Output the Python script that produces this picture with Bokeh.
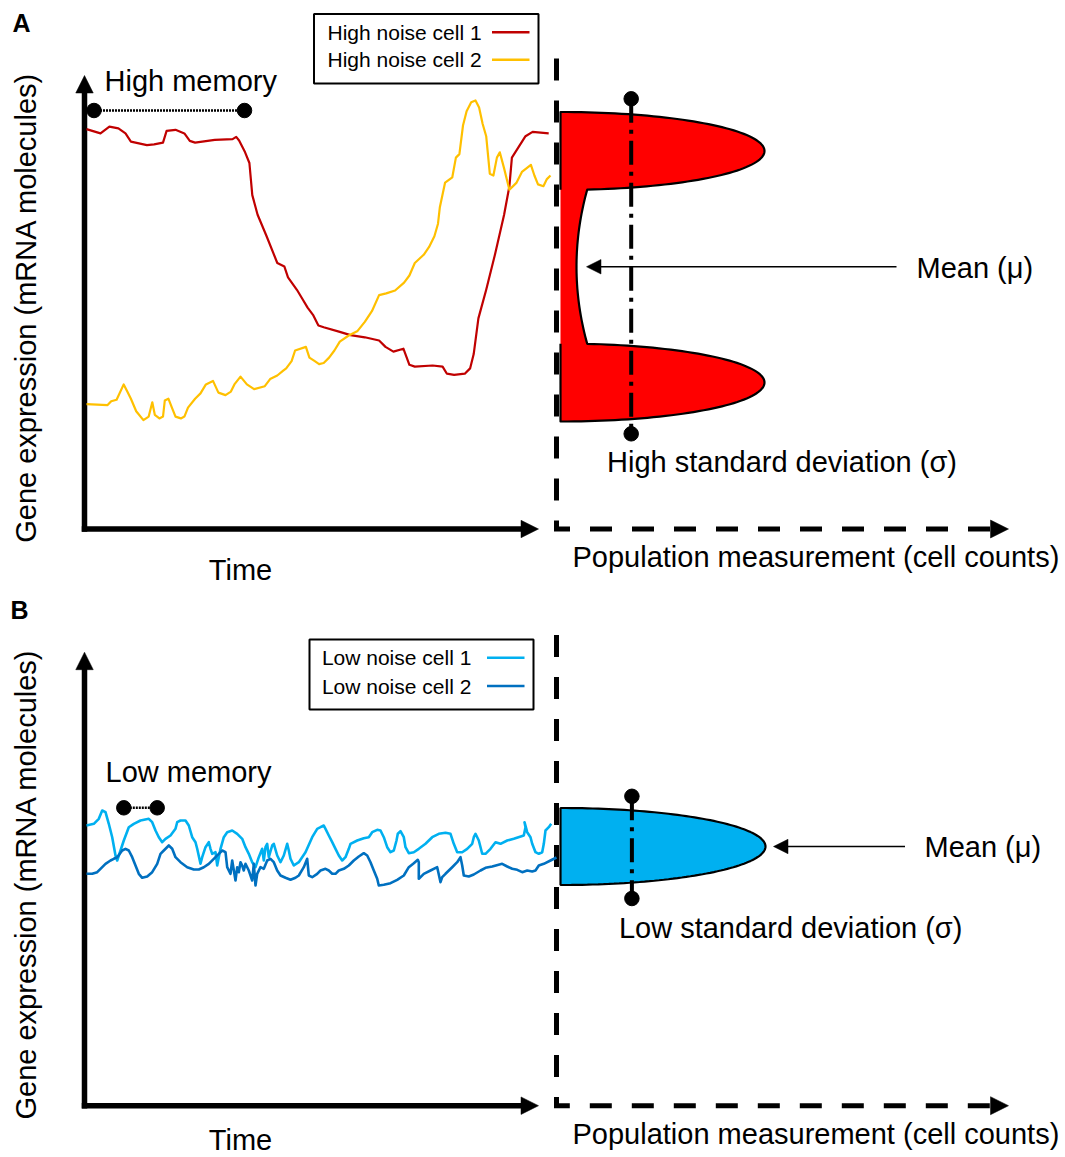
import numpy as np
from bokeh.plotting import figure
from bokeh.models import Range1d
from bokeh.core.properties import value
from bokeh.embed import file_html
from bokeh.resources import INLINE

# ---------------- data ----------------
# time series: (time, expression) in picture units measured from each panel's origin
high_noise_cell1 = [(0, 398.4), (14, 394.1), (22.9, 400.9), (31.9, 399.1), (39, 394.1), (44.4, 385.9),
    (60.4, 382.4), (67.6, 383.1), (76.5, 384.9), (80.1, 396.6), (89, 397.7), (97.9, 394.1),
    (103.3, 386.6), (108.6, 384.9), (128.3, 387.7), (146.1, 388.4), (149.7, 390.6), (152.6, 387),
    (158.6, 375.2), (162.9, 364.5), (165.8, 332.4), (171.1, 312.7), (180.1, 291.3), (190.8, 264.5),
    (197.9, 260.9), (201.5, 250.2), (210.4, 237.7), (215.8, 228.8), (221.1, 219.9), (226.5, 212.7),
    (231.9, 202), (237.2, 200.2), (253.3, 195.6), (264, 192.4), (278.3, 190.2), (292.6, 187),
    (299, 180.6), (306.9, 175.9), (316.9, 178.8), (322.9, 162.7), (328.3, 160.9), (346.1, 162),
    (356.1, 160.9), (360.4, 153.8), (367.6, 152.7), (378.3, 153.8), (383.6, 159.1), (387.2, 173.4),
    (391.9, 209.1), (399.7, 237.7), (408.6, 273.4), (417.6, 312.7), (422.9, 341.3), (425.4, 369.9),
    (439, 391.3), (446.1, 395.6), (462.2, 394.1)]

high_noise_cell2 = [(0, 123.4), (21.1, 122.4), (24.7, 126.3), (30.1, 127.7), (37.2, 143.1), (40.8, 135.9),
    (44.4, 128.8), (49.7, 116.3), (56.9, 107.4), (62.2, 110.9), (65.8, 125.2), (68.3, 112.7),
    (72.9, 109.1), (76.5, 110.9), (78.3, 127), (81.9, 128.8), (85.4, 119.9), (89, 110.9),
    (94.4, 109.1), (97.9, 110.9), (101.5, 119.9), (108.6, 128.8), (114, 134.1), (119.4, 143.1),
    (126.5, 146.6), (131.9, 134.9), (139, 132.4), (144.4, 135.9), (147.9, 143.1), (154, 150.9),
    (160.4, 143.1), (167.6, 138.4), (178.3, 141.3), (183.6, 148.4), (190.8, 152), (196.1, 156.3),
    (199.7, 159.1), (205.1, 166.3), (208.6, 177), (219.4, 180.6), (222.9, 169.9), (228.3, 166.3),
    (232.6, 163.4), (237.2, 164.5), (242.6, 169.9), (247.9, 177), (253.3, 185.9), (262.2, 192),
    (271.1, 196.6), (278.3, 205.6), (285.4, 216.3), (292.6, 232.4), (299.7, 234.1), (308.6, 237),
    (317.6, 244.9), (322.9, 252), (328.3, 264.5), (337.2, 272.7), (342.6, 280.6), (347.9, 291.3),
    (351.5, 303.8), (353.3, 319.9), (358.6, 344.9), (365.8, 350.2), (369.4, 369.9), (372.9, 373.4),
    (376.5, 402), (380.1, 416.3), (384.7, 425.2), (389, 427), (392.6, 419.9), (396.1, 403.8),
    (399.7, 391.3), (403.3, 353.8), (406.9, 352), (410.4, 369.9), (413.3, 375.2), (417.6, 359.1),
    (422.9, 337.7), (430.1, 344.9), (435.4, 355.6), (444.4, 362.7), (447.9, 352), (451.5, 343.1),
    (456.9, 341.3), (460.4, 348.4), (464, 352)]

low_noise_cell1 = [(0, 279), (7.3, 280.7), (12.3, 285.7), (15.7, 294), (19, 292.3), (22.3, 280.7),
    (25.7, 267.3), (29, 249), (30.7, 244), (34, 254), (37.3, 264), (42.3, 277.3), (47.3, 280.7),
    (54, 284), (62.3, 285.7), (65.7, 282.3), (69, 274), (72.3, 267.3), (75.7, 262.3), (79, 265.7),
    (84, 269), (89, 275.7), (90.7, 282.3), (94, 284), (99, 284), (102.3, 279), (105.7, 267.3),
    (109, 262.3), (110.7, 255.7), (114, 240.7), (115.7, 247.3), (119, 257.3), (122.3, 262.3),
    (124, 255.7), (125.7, 250.7), (129, 252.3), (130.7, 239), (134, 255.7), (137.3, 267.3),
    (140.7, 272.3), (145.7, 274), (150.7, 270.7), (155.7, 265.7), (159, 257.3), (162.3, 250.7),
    (165.7, 242.3), (169, 237.3), (172.3, 247.3), (175.7, 255.7), (177.3, 244), (179, 257.3),
    (180.7, 260.7), (182.3, 247.3), (185.7, 259), (187.3, 260.7), (190.7, 249), (194, 242.3),
    (197.3, 249), (200.7, 260.7), (202.3, 254), (204, 245.7), (207.3, 239), (212.3, 242.3),
    (219, 252.3), (225.7, 267.3), (230.7, 275.7), (234, 277.3), (237.3, 279), (239, 275.7),
    (242.3, 269), (245.7, 262.3), (249, 255.7), (252.3, 249), (255.7, 244), (259, 247.3),
    (262.3, 255.7), (264, 260.7), (270.7, 264), (277.3, 266.3), (282.3, 267.3), (285.7, 272.3),
    (290.7, 274.7), (294, 274), (297.3, 267.3), (300.7, 257.3), (304, 252.3), (307.3, 254),
    (310, 264), (311.3, 270.7), (314, 273.3), (317.3, 267.3), (319, 257.3), (322.3, 251.3),
    (327.3, 252.3), (332.3, 255.7), (339, 260.7), (345.7, 267.3), (352.3, 270.7), (359, 271.7),
    (364, 270.7), (367.3, 260.7), (370.7, 252.3), (375.7, 252.3), (380.7, 255.7), (385.7, 260.7),
    (387.3, 267.3), (389, 270.7), (392.3, 264), (395.7, 250.7), (399, 250.7), (404, 255.7),
    (409, 262.3), (414, 260.7), (420.7, 264), (427.3, 265.7), (437.3, 269), (439, 277.3),
    (438, 282.3), (440.7, 272.3), (444, 267.3), (445.7, 260.7), (449, 252.3), (452.3, 250.7),
    (455.7, 252.3), (457.3, 260.7), (459, 274), (462.3, 277.3), (464.7, 280.7)]

low_noise_cell2 = [(0, 230.7), (5.7, 230.7), (10.7, 232.3), (14, 235.7), (19, 240.7), (24, 244),
    (27.3, 245.7), (30.7, 247.3), (35.7, 254), (39, 255.7), (42.3, 254), (45.7, 247.3), (49, 239),
    (52.3, 230.7), (55.7, 226.7), (60.7, 228), (65.7, 232.3), (70.7, 240.7), (74, 250.7),
    (77.3, 254), (82.3, 259), (85.7, 255.7), (89, 247.3), (94, 242.3), (100.7, 237.3), (107.3, 235),
    (112.3, 235), (117.3, 237.3), (122.3, 240.7), (127.3, 245.7), (132.3, 250.7), (135.7, 254),
    (139, 252.3), (140.7, 237.3), (144, 230.7), (145.7, 244), (149, 224), (150.7, 237.3),
    (152.3, 232.3), (154, 242.3), (155.7, 239), (157.3, 234), (159, 240.7), (162.3, 234),
    (165.7, 224), (167.3, 240.7), (169, 219), (170.7, 230.7), (174, 237.3), (177.3, 235.7),
    (180.7, 244), (184, 245.7), (187.3, 242.3), (190.7, 234), (194, 229), (199, 226.7),
    (204, 224.7), (209, 226.7), (212.3, 229), (217.3, 237.3), (220.7, 245.7), (222.3, 229),
    (225.7, 227.3), (230.7, 230.7), (234, 234), (239, 235.7), (242.3, 234), (245.7, 230.7),
    (249, 230.7), (252.3, 234), (257.3, 235.7), (262.3, 239), (267.3, 244), (272.3, 248),
    (277.3, 251.3), (280.7, 249), (284, 242.3), (287.3, 234), (290.7, 225.7), (292.3, 219),
    (297.3, 219.7), (304, 221.3), (310.7, 224.7), (317.3, 229), (322.3, 237.3), (327.3, 241.3),
    (331.3, 244.7), (332.3, 242.3), (332.3, 225.7), (337.3, 230.7), (344, 234), (350.7, 237.3),
    (354, 222.3), (355.7, 227.3), (359, 230.7), (365.7, 237.3), (370.7, 242.3), (374, 247.3),
    (375.7, 239), (377.3, 229), (382.3, 228), (387.3, 230), (394, 234), (399, 236.7),
    (405.7, 238), (415.7, 240.7), (420.7, 238), (425.7, 235.7), (430.7, 234.7), (435.7, 232.3),
    (440.7, 234), (445.7, 233), (449, 234), (452.3, 239), (457.3, 240.7), (464, 244), (470, 247)]

# population distributions: expression of each mode, spread of each mode, peak cell count
high_noise_modes = [376.5, 145.0]
high_noise_spread = [39.0, 39.0]
high_noise_peak = [204.0, 204.0]
high_noise_valley = [16.0, 26.7]     # cell count at the mean / where the modes join
low_noise_modes = [258.0]
low_noise_spread = [38.5]
low_noise_peak = [205.0]

# texts
panel_labels = ["A", "B"]
y_title = "Gene expression (mRNA molecules)"
time_title = "Time"
pop_title = "Population measurement (cell counts)"
memory_labels = ["High memory", "Low memory"]
sd_labels = ["High standard deviation (σ)", "Low standard deviation (σ)"]
mean_label = "Mean (μ)"
legend_labels = [["High noise cell 1", "High noise cell 2"], ["Low noise cell 1", "Low noise cell 2"]]

# styles
RED_LINE, YELLOW_LINE = "#C00000", "#FFC000"
LIGHT_BLUE, DARK_BLUE = "#00B0F0", "#0070C0"
RED_FILL, BLUE_FILL = "#FF0000", "#00B0F0"
FONT = value("Liberation Sans")
BASE_K = 0.35   # correction between requested and rendered baseline (fraction of font size)

# ---------------- figure ----------------
W, H = 1065, 1157
p = figure(width=W, height=H, x_range=Range1d(0, W), y_range=Range1d(H, 0),
           output_backend="svg", toolbar_location=None, min_border=0,
           x_axis_location=None, y_axis_location=None)
p.grid.visible = False
p.outline_line_color = None
p.background_fill_color = "white"
p.border_fill_color = "white"


def head(tx, ty, dx, dy, length, width):
    bx, by = tx - dx * length, ty - dy * length
    px, py = -dy, dx
    return ([tx, bx + px * width / 2, bx - px * width / 2],
            [ty, by + py * width / 2, by - py * width / 2])


def txt(x, y, s, size, align="left", bold=False, vertical=False):
    shift = BASE_K * size
    if vertical:
        x, angle = x - shift, np.pi / 2
    else:
        y, angle = y - shift, 0.0
    p.text(x=[x], y=[y], text=[s], text_font=FONT, text_font_size=f"{size}px",
           text_align=align, text_baseline="alphabetic", angle=angle,
           text_color="black", text_font_style="bold" if bold else "normal")


panels = [
    dict(ox=86, oy=527, ax_x=84, ax_y=528.5, ax_top=75, label_xy=(12, 31.5), ytitle_y=307,
         time_base=580, mem_dots=(93.5, 244, 110), mem_xy=(104, 90.5),
         leg_box=(313.5, 538, 13.5, 83), leg_text_x=327, leg_base=(39.3, 66.7),
         leg_line=(491.5, 529, 31.7, 59.3), dash_top=58, pop_base=566.7,
         sd_x=630.7, sd_y=(98.3, 433.3), sd_xy=(606.5, 471.7),
         mean_tip=586, mean_end=896, mean_text_xy=(916, 278),
         series=[(high_noise_cell1, RED_LINE, 2.2), (high_noise_cell2, YELLOW_LINE, 2.2)],
         leg_colors=[RED_LINE, YELLOW_LINE]),
    dict(ox=86, oy=1104, ax_x=84, ax_y=1105.2, ax_top=651.7, label_xy=(10, 618), ytitle_y=883.7,
         time_base=1150, mem_dots=(123.3, 156.7, 807.3), mem_xy=(105, 781.5),
         leg_box=(309, 533, 639, 709), leg_text_x=321.4, leg_base=(664, 693.5),
         leg_line=(486.5, 524, 657.3, 685.5), dash_top=634.5, pop_base=1143.4,
         sd_x=631.4, sd_y=(795.8, 898), sd_xy=(618.4, 938),
         mean_tip=773, mean_end=904.5, mean_text_xy=(924, 857),
         series=[(low_noise_cell1, LIGHT_BLUE, 2.6), (low_noise_cell2, DARK_BLUE, 2.6)],
         leg_colors=[LIGHT_BLUE, DARK_BLUE]),
]

DIST_X0 = 560   # left edge of population distributions
DASH_X = 556

for i, P in enumerate(panels):
    ox, oy = P["ox"], P["oy"]
    # --- solid time/expression axes with arrow heads
    p.segment(x0=[P["ax_x"], P["ax_x"] - 2.75], y0=[P["ax_y"] + 2.75, P["ax_y"]],
              x1=[P["ax_x"], 522], y1=[P["ax_top"] + 16, P["ax_y"]],
              line_color="black", line_width=5.5, line_cap="butt")
    hx1, hy1 = head(P["ax_x"], P["ax_top"], 0, -1, 17.5, 17.5)
    hx2, hy2 = head(538, P["ax_y"], 1, 0, 17.5, 17.5)
    p.patches(xs=[hx1, hx2], ys=[hy1, hy2], fill_color="black", line_color="black", line_width=0.5)

    # --- dashed population axes
    p.line(x=[DASH_X, DASH_X, 991], y=[P["dash_top"], P["ax_y"], P["ax_y"]],
           line_color="black", line_width=5, line_dash="22 20", line_cap="butt", line_join="miter")
    hx, hy = head(1008, P["ax_y"], 1, 0, 18, 18)
    p.patch(x=hx, y=hy, fill_color="black", line_color="black", line_width=0.5)

    # --- time series
    for series, color, lw in P["series"]:
        t = np.array([a for a, _ in series])
        e = np.array([b for _, b in series])
        p.line(x=ox + t, y=oy - e, line_color=color, line_width=lw, line_join="round")

    # --- legend box
    l, r, top, bot = P["leg_box"]
    p.quad(left=[l], right=[r], top=[top], bottom=[bot], fill_color="white",
           line_color="black", line_width=2)
    for k in range(2):
        txt(P["leg_text_x"], P["leg_base"][k], legend_labels[i][k], 21)
    lx0, lx1, ly0, ly1 = P["leg_line"]
    p.segment(x0=[lx0, lx0], y0=[ly0, ly1], x1=[lx1, lx1], y1=[ly0, ly1],
              line_color=P["leg_colors"], line_width=2.5)

    # --- memory dumbbell
    mx0, mx1, my = P["mem_dots"]
    p.line(x=[mx0, mx1], y=[my, my], line_color="black", line_width=2.5, line_dash="2 1")
    p.scatter(x=[mx0, mx1], y=[my, my], size=14.5, fill_color="black", line_color="black")
    txt(P["mem_xy"][0], P["mem_xy"][1], memory_labels[i], 29)

    # --- texts
    txt(P["label_xy"][0], P["label_xy"][1], panel_labels[i], 25, bold=True)
    txt(35.6, P["ytitle_y"], y_title, 29, align="center", vertical=True)
    txt(240, P["time_base"], time_title, 29, align="center")
    txt(572, P["pop_base"], pop_title, 29)
    txt(P["sd_xy"][0], P["sd_xy"][1], sd_labels[i], 29)
    txt(P["mean_text_xy"][0], P["mean_text_xy"][1], mean_label, 29)

# ---------------- population distributions ----------------
# panel A: bimodal (high noise)
PA = panels[0]
oyA = PA["oy"]
top_c = oyA - high_noise_modes[0]
bot_c = oyA - high_noise_modes[1]
join = high_noise_valley[1]
th1 = np.arccos(join / high_noise_peak[0])
th = np.linspace(np.pi / 2, -th1, 90)
x1 = DIST_X0 + high_noise_peak[0] * np.cos(th)
y1 = top_c - high_noise_spread[0] * np.sin(th)
th2 = np.arccos(join / high_noise_peak[1])
ya = y1[-1]
yb = bot_c - high_noise_spread[1] * np.sin(th2)
ys_stem = np.linspace(ya, yb, 40)
ym, hh = (ya + yb) / 2, (yb - ya) / 2
xs_stem = DIST_X0 + high_noise_valley[0] + (join - high_noise_valley[0]) * ((ys_stem - ym) / hh) ** 2
th = np.linspace(th2, -np.pi / 2, 90)
x3 = DIST_X0 + high_noise_peak[1] * np.cos(th)
y3 = bot_c - high_noise_spread[1] * np.sin(th)
bx = np.concatenate([x1, xs_stem, x3])
by = np.concatenate([y1, ys_stem, y3])
p.patch(x=bx, y=by, fill_color=RED_FILL, line_color=None)
p.line(x=np.concatenate([[DIST_X0], bx, [DIST_X0]]), y=np.concatenate([[ya], by, [yb]]),
       line_color="black", line_width=2.2, line_join="round")
mean_y_A = oyA - np.mean(high_noise_modes)

# panel B: unimodal (low noise)
PB = panels[1]
oyB = PB["oy"]
c = oyB - low_noise_modes[0]
th = np.linspace(np.pi / 2, -np.pi / 2, 120)
ux = DIST_X0 + low_noise_peak[0] * np.cos(th)
uy = c - low_noise_spread[0] * np.sin(th)
p.patch(x=ux, y=uy, fill_color=BLUE_FILL, line_color="black", line_width=2.2)
mean_y_B = c

# --- standard deviation markers and mean arrows
for P, my in [(PA, mean_y_A), (PB, mean_y_B)]:
    p.line(x=[P["sd_x"], P["sd_x"]], y=list(P["sd_y"]), line_color="black", line_width=4,
           line_dash="24 7 4 7", line_cap="butt")
    p.scatter(x=[P["sd_x"]] * 2, y=list(P["sd_y"]), size=14.5, fill_color="black", line_color="black")
    p.segment(x0=[P["mean_tip"] + 13], y0=[my], x1=[P["mean_end"]], y1=[my],
              line_color="black", line_width=1.5)
    hx, hy = head(P["mean_tip"], my, -1, 0, 14.5, 14.5)
    p.patch(x=hx, y=hy, fill_color="black", line_color="black", line_width=0.5)

open("out.html", "w").write(file_html(p, INLINE))
